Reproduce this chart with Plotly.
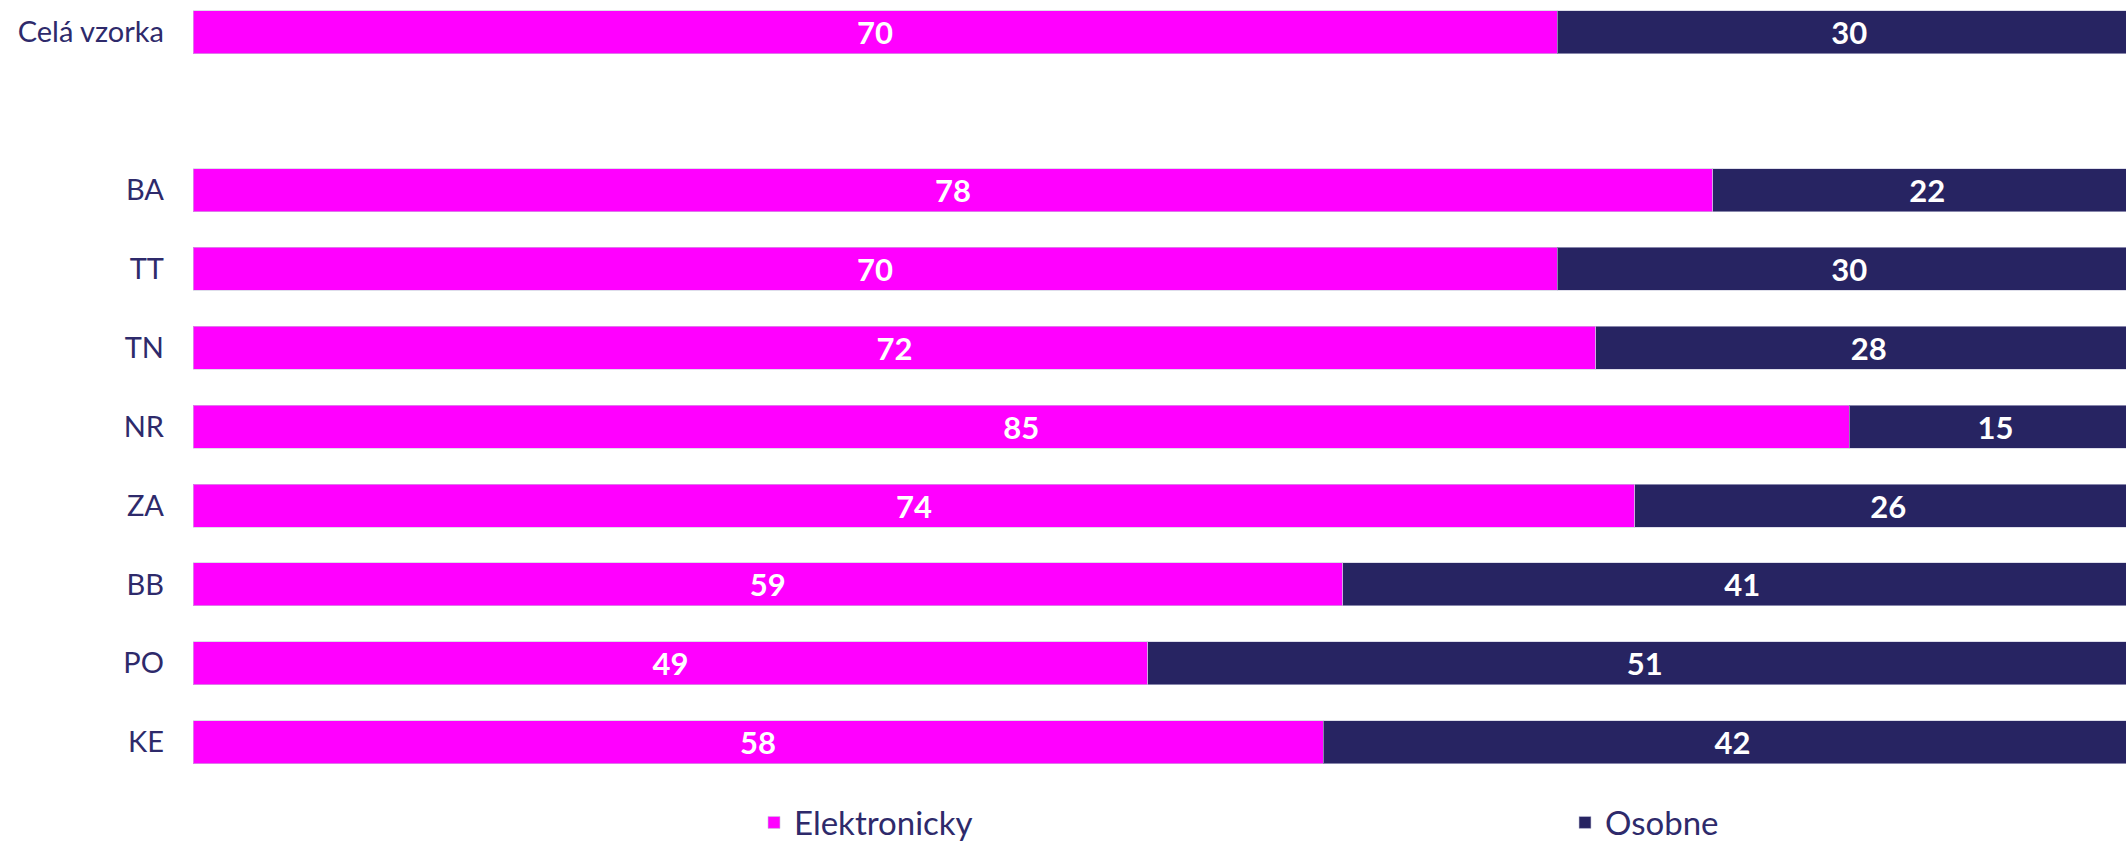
"""Stacked horizontal bars: Elektronicky vs Osobne by region."""
from plotly import graph_objects as go

regions = ["Celá vzorka", " ", "BA", "TT", "TN", "NR", "ZA", "BB", "PO", "KE"]
elektronicky = [70, None, 78, 70, 72, 85, 74, 59, 49, 58]
osobne = [30, None, 22, 30, 28, 15, 26, 41, 51, 42]

MAGENTA = "#FF00FF"
NAVY = "#272462"
TEXT = "#2E2A6B"

W, H = 2126, 841


def make_fig() -> go.Figure:
    fig = go.Figure()
    for name, vals, color, leg in [
        ("Elektronicky", elektronicky, MAGENTA, "legend"),
        ("Osobne", osobne, NAVY, "legend2"),
    ]:
        fig.add_trace(
            go.Bar(
                y=regions,
                x=vals,
                name=name,
                legend=leg,
                orientation="h",
                width=0.545,
                marker=dict(color=color, line=dict(color="rgba(200,200,220,0.6)", width=1)),
                text=vals,
                textposition="inside",
                insidetextanchor="middle",
                textangle=0,
                constraintext="none",
                textfont=dict(family="Lato", size=31, color="white", weight="bold"),
                hoverinfo="skip",
            )
        )
    leg_style = dict(
        orientation="h",
        xref="container",
        yref="container",
        xanchor="left",
        y=0.022,
        yanchor="middle",
        font=dict(family="Lato", size=33, color=TEXT),
    )
    fig.update_layout(
        barmode="stack",
        width=W,
        height=H,
        margin=dict(l=193, r=0, t=0, b=61, autoexpand=False),
        plot_bgcolor="white",
        paper_bgcolor="white",
        font=dict(family="Lato", size=29, color=TEXT),
        showlegend=True,
        legend=dict(leg_style, x=754 / W),
        legend2=dict(leg_style, x=1565 / W),
    )
    fig.update_xaxes(range=[0, 99.2], visible=False)
    fig.update_yaxes(
        type="category",
        categoryorder="array",
        categoryarray=regions,
        range=[9.48, -0.41],
        showgrid=False,
        showline=False,
        zeroline=False,
        ticks="",
        ticklabelstandoff=28,
        tickfont=dict(family="Lato", size=29, color=TEXT),
    )
    return fig


fig = make_fig()
# drop the page's default body margin so the chart fills the window
fig.write_html(
    "out.html",
    config={"displayModeBar": False},
    post_script="document.body.style.margin='0';",
)
